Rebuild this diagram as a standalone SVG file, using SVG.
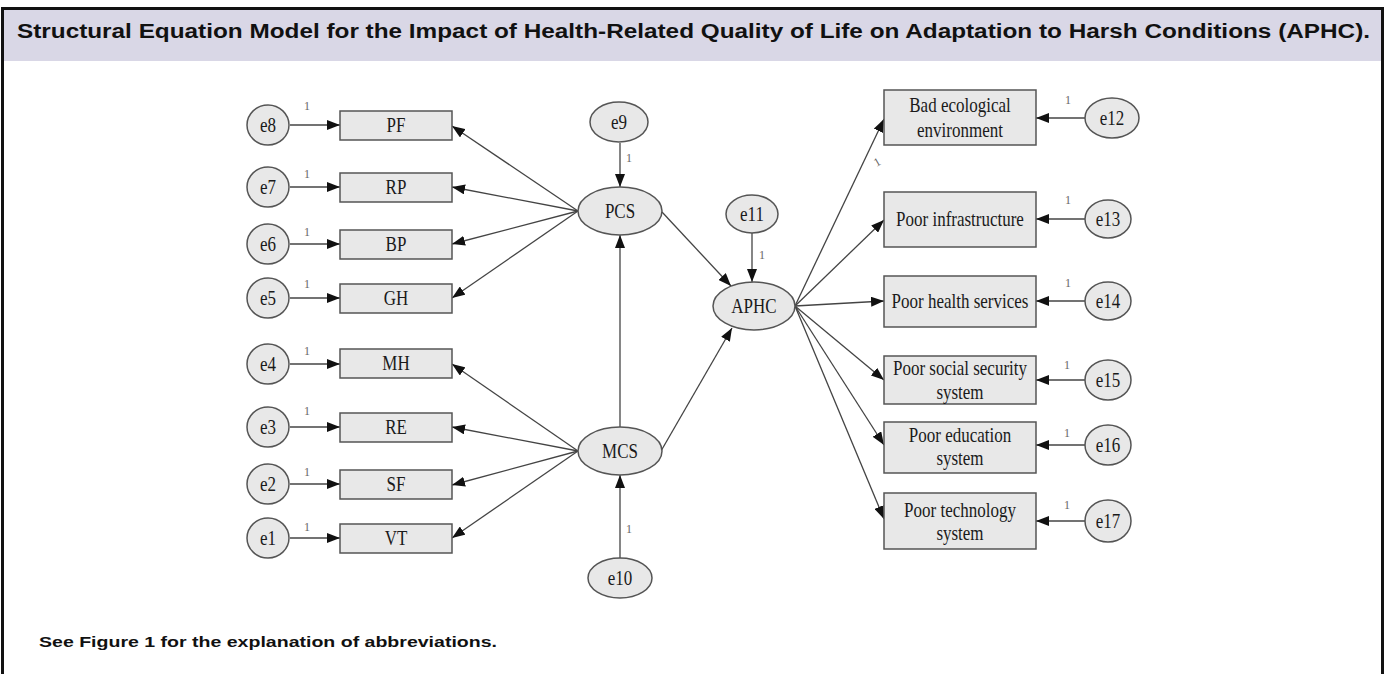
<svg xmlns="http://www.w3.org/2000/svg" width="1386" height="674" viewBox="0 0 1386 674">
  <defs>
    <marker id="ah" viewBox="0 0 13 10" refX="13" refY="5" markerWidth="13" markerHeight="10" markerUnits="userSpaceOnUse" orient="auto">
      <path d="M0,0 L13,5 L0,10 Z" fill="#111"/>
    </marker>
  </defs>
  <style>
    .frame { fill: none; stroke: #111; stroke-width: 3; }
    .head { fill: #d9d7e6; }
    .title { font-family: "Liberation Sans", Arial, sans-serif; font-weight: bold; font-size: 20px; fill: #111; }
    .note { font-family: "Liberation Sans", Arial, sans-serif; font-weight: bold; font-size: 15px; fill: #111; }
    .box { fill: #e8e8e8; stroke: #555; stroke-width: 1.5; }
    .lat { fill: #e8e8e8; stroke: #555; stroke-width: 1.5; }
    .t { font-family: "Liberation Serif", "Times New Roman", serif; font-size: 17px; fill: #1a1a1a; text-anchor: middle;
         transform-box: fill-box; transform-origin: center; transform: scaleY(1.18); }
    .one { font-family: "Liberation Serif", "Times New Roman", serif; font-size: 12px; fill: #666; text-anchor: middle; }
    .edge { fill: none; stroke: #444; stroke-width: 1.3; marker-end: url(#ah); }
  </style>

  <!-- page frame and caption bar -->
  <rect class="head" x="4" y="10" width="1377" height="51"/>
  <path class="frame" d="M2.5,674 V8.5 H1382.5 V674"/>
  <text class="title" x="17" y="38" textLength="1353" lengthAdjust="spacingAndGlyphs">Structural Equation Model for the Impact of Health-Related Quality of Life on Adaptation to Harsh Conditions (APHC).</text>
  <text class="note" x="39" y="647" textLength="458" lengthAdjust="spacingAndGlyphs">See Figure 1 for the explanation of abbreviations.</text>

  <!-- connectors -->
  <g id="connectors">
    <!-- error terms into left indicators -->
    <line class="edge" x1="290" y1="125" x2="340" y2="125"/>
    <line class="edge" x1="290" y1="187" x2="340" y2="187"/>
    <line class="edge" x1="290" y1="244" x2="340" y2="244"/>
    <line class="edge" x1="290" y1="298" x2="340" y2="298"/>
    <line class="edge" x1="290" y1="364" x2="340" y2="364"/>
    <line class="edge" x1="290" y1="427" x2="340" y2="427"/>
    <line class="edge" x1="290" y1="484" x2="340" y2="484"/>
    <line class="edge" x1="290" y1="538" x2="340" y2="538"/>
    <!-- PCS loadings -->
    <line class="edge" x1="578" y1="211" x2="452" y2="126"/>
    <line class="edge" x1="578" y1="211" x2="452" y2="187"/>
    <line class="edge" x1="578" y1="211" x2="452" y2="244"/>
    <line class="edge" x1="578" y1="211" x2="452" y2="298"/>
    <!-- MCS loadings -->
    <line class="edge" x1="578" y1="451" x2="452" y2="364"/>
    <line class="edge" x1="578" y1="451" x2="452" y2="427"/>
    <line class="edge" x1="578" y1="451" x2="452" y2="485"/>
    <line class="edge" x1="578" y1="451" x2="452" y2="538"/>
    <!-- structural paths -->
    <line class="edge" x1="620" y1="143" x2="620" y2="187"/>
    <line class="edge" x1="620" y1="427" x2="620" y2="235"/>
    <line class="edge" x1="620" y1="558" x2="620" y2="475"/>
    <line class="edge" x1="662" y1="212" x2="731" y2="286"/>
    <line class="edge" x1="661" y1="451" x2="732" y2="328"/>
    <line class="edge" x1="752" y1="233" x2="752" y2="282"/>
    <!-- APHC loadings -->
    <line class="edge" x1="795" y1="306" x2="884" y2="119"/>
    <line class="edge" x1="795" y1="306" x2="884" y2="220"/>
    <line class="edge" x1="795" y1="306" x2="884" y2="301"/>
    <line class="edge" x1="795" y1="306" x2="884" y2="380"/>
    <line class="edge" x1="795" y1="306" x2="884" y2="445"/>
    <line class="edge" x1="795" y1="306" x2="884" y2="519"/>
    <!-- error terms into right indicators -->
    <line class="edge" x1="1085" y1="118" x2="1036" y2="118"/>
    <line class="edge" x1="1085" y1="219" x2="1036" y2="219"/>
    <line class="edge" x1="1085" y1="301" x2="1036" y2="301"/>
    <line class="edge" x1="1085" y1="380" x2="1036" y2="380"/>
    <line class="edge" x1="1085" y1="445" x2="1036" y2="445"/>
    <line class="edge" x1="1085" y1="521" x2="1036" y2="521"/>
    <!-- fixed regression weights -->
    <text class="one" x="307" y="110">1</text>
    <text class="one" x="307" y="178">1</text>
    <text class="one" x="307" y="236">1</text>
    <text class="one" x="307" y="288">1</text>
    <text class="one" x="307" y="355">1</text>
    <text class="one" x="307" y="415">1</text>
    <text class="one" x="307" y="476">1</text>
    <text class="one" x="307" y="531">1</text>
    <text class="one" x="629" y="162">1</text>
    <text class="one" x="629" y="533">1</text>
    <text class="one" x="762" y="259">1</text>
    <text class="one" x="877" y="166" transform="rotate(-30 877 162)">1</text>
    <text class="one" x="1068" y="104">1</text>
    <text class="one" x="1068" y="204">1</text>
    <text class="one" x="1068" y="287">1</text>
    <text class="one" x="1067" y="369">1</text>
    <text class="one" x="1067" y="437">1</text>
    <text class="one" x="1067" y="509">1</text>
  </g>

  <!-- left error terms -->
  <g id="e8"><ellipse class="lat" cx="268" cy="125" rx="21" ry="20"/><text class="t" x="268" y="131">e8</text></g>
  <g id="e7"><ellipse class="lat" cx="268" cy="187" rx="21" ry="20"/><text class="t" x="268" y="193">e7</text></g>
  <g id="e6"><ellipse class="lat" cx="268" cy="244" rx="21" ry="20"/><text class="t" x="268" y="250">e6</text></g>
  <g id="e5"><ellipse class="lat" cx="268" cy="298" rx="21" ry="20"/><text class="t" x="268" y="304">e5</text></g>
  <g id="e4"><ellipse class="lat" cx="268" cy="364" rx="21" ry="20"/><text class="t" x="268" y="370">e4</text></g>
  <g id="e3"><ellipse class="lat" cx="268" cy="427" rx="21" ry="20"/><text class="t" x="268" y="433">e3</text></g>
  <g id="e2"><ellipse class="lat" cx="268" cy="484" rx="21" ry="20"/><text class="t" x="268" y="490">e2</text></g>
  <g id="e1"><ellipse class="lat" cx="268" cy="538" rx="21" ry="20"/><text class="t" x="268" y="544">e1</text></g>

  <!-- left indicators -->
  <g id="PF"><rect class="box" x="340" y="111" width="112" height="29"/><text class="t" x="396" y="131">PF</text></g>
  <g id="RP"><rect class="box" x="340" y="173" width="112" height="29"/><text class="t" x="396" y="193">RP</text></g>
  <g id="BP"><rect class="box" x="340" y="230" width="112" height="29"/><text class="t" x="396" y="250">BP</text></g>
  <g id="GH"><rect class="box" x="340" y="284" width="112" height="29"/><text class="t" x="396" y="304">GH</text></g>
  <g id="MH"><rect class="box" x="340" y="349" width="112" height="29"/><text class="t" x="396" y="369">MH</text></g>
  <g id="RE"><rect class="box" x="340" y="413" width="112" height="29"/><text class="t" x="396" y="433">RE</text></g>
  <g id="SF"><rect class="box" x="340" y="470" width="112" height="29"/><text class="t" x="396" y="490">SF</text></g>
  <g id="VT"><rect class="box" x="340" y="524" width="112" height="29"/><text class="t" x="396" y="544">VT</text></g>

  <!-- latent variables -->
  <g id="e9"><ellipse class="lat" cx="619" cy="122" rx="29" ry="20"/><text class="t" x="619" y="128">e9</text></g>
  <g id="PCS"><ellipse class="lat" cx="620" cy="211" rx="42" ry="24"/><text class="t" x="620" y="217">PCS</text></g>
  <g id="MCS"><ellipse class="lat" cx="620" cy="451" rx="42" ry="24"/><text class="t" x="620" y="457">MCS</text></g>
  <g id="e10"><ellipse class="lat" cx="620" cy="578" rx="32" ry="20"/><text class="t" x="620" y="584">e10</text></g>
  <g id="e11"><ellipse class="lat" cx="752" cy="214" rx="26" ry="19"/><text class="t" x="752" y="220">e11</text></g>
  <g id="APHC"><ellipse class="lat" cx="754" cy="306" rx="41" ry="24"/><text class="t" x="754" y="312">APHC</text></g>

  <!-- right indicators -->
  <g id="bad-ecological-environment"><rect class="box" x="884" y="90" width="152" height="55"/><text class="t" x="960" y="111">Bad ecological</text><text class="t" x="960" y="136">environment</text></g>
  <g id="poor-infrastructure"><rect class="box" x="884" y="192" width="152" height="55"/><text class="t" x="960" y="225">Poor infrastructure</text></g>
  <g id="poor-health-services"><rect class="box" x="884" y="276" width="152" height="51"/><text class="t" x="960" y="307">Poor health services</text></g>
  <g id="poor-social-security-system"><rect class="box" x="884" y="356" width="152" height="48"/><text class="t" x="960" y="374">Poor social security</text><text class="t" x="960" y="398">system</text></g>
  <g id="poor-education-system"><rect class="box" x="884" y="422" width="152" height="51"/><text class="t" x="960" y="441">Poor education</text><text class="t" x="960" y="464">system</text></g>
  <g id="poor-technology-system"><rect class="box" x="884" y="493" width="152" height="56"/><text class="t" x="960" y="516">Poor technology</text><text class="t" x="960" y="539">system</text></g>

  <!-- right error terms -->
  <g id="e12"><ellipse class="lat" cx="1112" cy="118" rx="27" ry="20"/><text class="t" x="1112" y="124">e12</text></g>
  <g id="e13"><ellipse class="lat" cx="1108" cy="219" rx="23" ry="19"/><text class="t" x="1108" y="225">e13</text></g>
  <g id="e14"><ellipse class="lat" cx="1108" cy="301" rx="23" ry="19"/><text class="t" x="1108" y="307">e14</text></g>
  <g id="e15"><ellipse class="lat" cx="1108" cy="380" rx="23" ry="20"/><text class="t" x="1108" y="386">e15</text></g>
  <g id="e16"><ellipse class="lat" cx="1108" cy="445" rx="23" ry="20"/><text class="t" x="1108" y="451">e16</text></g>
  <g id="e17"><ellipse class="lat" cx="1108" cy="521" rx="23" ry="21"/><text class="t" x="1108" y="527">e17</text></g>
</svg>
